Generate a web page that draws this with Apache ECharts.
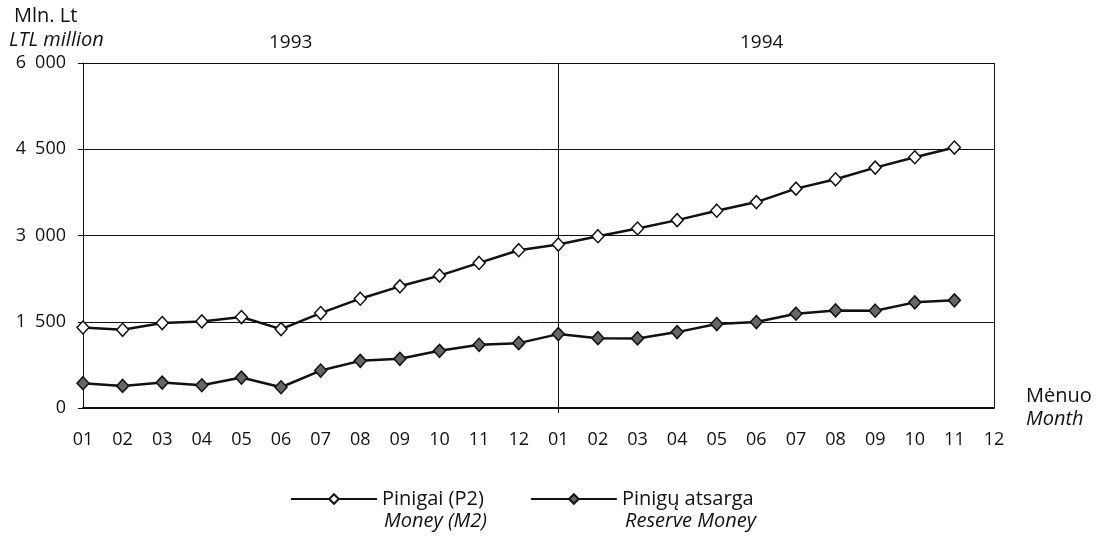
<!DOCTYPE html>
<html>
<head>
<meta charset="utf-8">
<script src="https://cdn.jsdelivr.net/npm/echarts@6/dist/echarts.min.js"></script>
<style>
html,body{margin:0;padding:0;background:#fff;}
#chart{width:1099px;height:543px;}
</style>
</head>
<body>
<div id="chart"></div>
<script>
const months = ['01','02','03','04','05','06','07','08','09','10','11','12',
                '01','02','03','04','05','06','07','08','09','10','11','12'];
const years = ['1993', '1994'];
const yTicks = [0, 1500, 3000, 4500, 6000];
const moneyM2 = [1400, 1360, 1477, 1506, 1582, 1372, 1651, 1901, 2116, 2302, 2523, 2744,
                 2843, 2988, 3122, 3267, 3431, 3581, 3815, 3977, 4181, 4361, 4530, null];
const reserveMoney = [431, 384, 442, 396, 529, 361, 651, 820, 855, 994, 1099, 1128,
                      1285, 1215, 1210, 1320, 1460, 1495, 1640, 1697, 1692, 1837, 1872, null];
const seriesNamesLT = ['Pinigai (P2)', 'Pinigų atsarga'];
const seriesNamesEN = ['Money (M2)', 'Reserve Money'];

const FONT = 'Open Sans';
const chart = echarts.init(document.getElementById('chart'), null, {renderer: 'canvas'});

function fmtThousands(v) {
  return String(v).replace(/\B(?=(\d{3})+(?!\d))/g, '\u2002');
}

const option = {
  backgroundColor: '#fff',
  animation: false,
  textStyle: {fontFamily: FONT, color: '#111'},
  grid: {left: 83, right: 105, top: 63, bottom: 135, containLabel: false},
  xAxis: {
    type: 'category',
    data: months,
    boundaryGap: false,
    axisLine: {show: true, lineStyle: {color: '#111', width: 2}},
    axisTick: {show: true, alignWithLabel: true, length: 5, interval: function (i) { return i === 12; }, lineStyle: {color: '#111', width: 1}},
    axisLabel: {interval: 0, margin: 23, fontSize: 18, color: '#111', fontFamily: FONT},
    splitLine: {show: true, interval: function (i) { return i === 12 || i === 23; }, lineStyle: {color: '#111', width: 1}}
  },
  yAxis: {
    type: 'value',
    min: yTicks[0],
    max: yTicks[yTicks.length - 1],
    interval: 1500,
    axisLine: {show: true, lineStyle: {color: '#111', width: 1}},
    axisTick: {show: true, length: 5, lineStyle: {color: '#111'}},
    axisLabel: {margin: 17, fontSize: 18, color: '#111', fontFamily: FONT, formatter: fmtThousands},
    splitLine: {show: true, lineStyle: {color: '#111', width: 1}}
  },
  legend: {
    left: 285,
    top: 484,
    itemWidth: 86,
    itemHeight: 12,
    itemGap: 46,
    textStyle: {fontSize: 20, color: '#111', fontFamily: FONT},
    data: seriesNamesLT
  },
  series: [
    {
      name: seriesNamesLT[0],
      type: 'line',
      data: moneyM2,
      symbol: 'diamond',
      symbolSize: [12, 13],
      showAllSymbol: true,
      lineStyle: {color: '#111', width: 2.5},
      itemStyle: {color: '#fff', borderColor: '#111', borderWidth: 1.5}
    },
    {
      name: seriesNamesLT[1],
      type: 'line',
      data: reserveMoney,
      symbol: 'diamond',
      symbolSize: [12, 13],
      showAllSymbol: true,
      lineStyle: {color: '#111', width: 2.5},
      itemStyle: {color: '#666', borderColor: '#111', borderWidth: 1.5}
    }
  ],
  graphic: [
    {type: 'text', left: 14, top: 6, style: {text: 'Mln. Lt', fontSize: 20, fontFamily: FONT, fill: '#111'}},
    {type: 'text', left: 9, top: 30, style: {text: 'LTL million', fontSize: 20, fontStyle: 'italic', fontFamily: FONT, fill: '#111'}},
    {type: 'text', left: 269, top: 33, style: {text: years[0], fontSize: 19, fontFamily: FONT, fill: '#111'}},
    {type: 'text', left: 740, top: 33, style: {text: years[1], fontSize: 19, fontFamily: FONT, fill: '#111'}},
    {type: 'text', left: 1026, top: 386, style: {text: 'Mėnuo', fontSize: 20, fontFamily: FONT, fill: '#111'}},
    {type: 'text', left: 1026, top: 409, style: {text: 'Month', fontSize: 20, fontStyle: 'italic', fontFamily: FONT, fill: '#111'}},
    {type: 'text', left: 384, top: 511, style: {text: seriesNamesEN[0], fontSize: 20, fontStyle: 'italic', fontFamily: FONT, fill: '#111'}},
    {type: 'text', left: 625, top: 511, style: {text: seriesNamesEN[1], fontSize: 20, fontStyle: 'italic', fontFamily: FONT, fill: '#111'}}
  ]
};
chart.setOption(option);
</script>
</body>
</html>
